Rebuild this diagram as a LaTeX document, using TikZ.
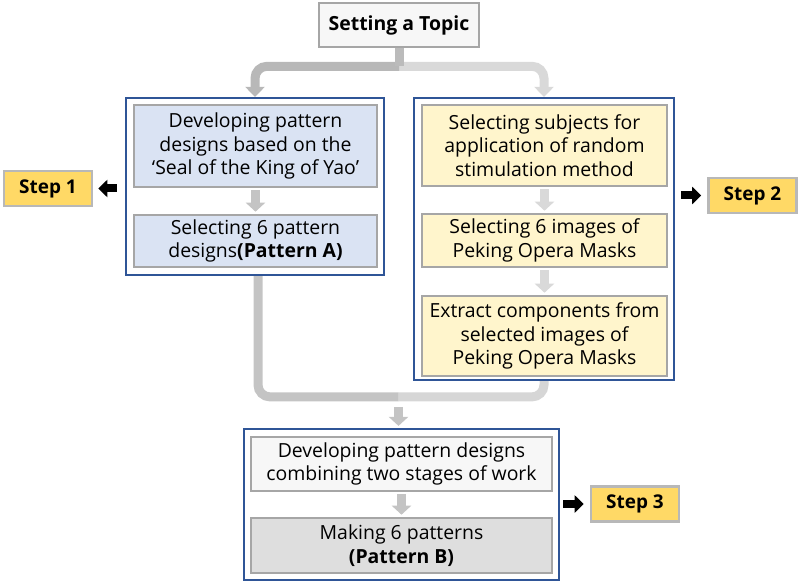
\documentclass[tikz,border=0pt]{standalone}
\usepackage{fontspec}
\setmainfont{Open Sans}
\usetikzlibrary{arrows.meta,calc}
\definecolor{grpblue}{HTML}{2F5597}
\definecolor{boxgray}{HTML}{A6A6A6}
\definecolor{lblue}{HTML}{DAE3F3}
\definecolor{lyellow}{HTML}{FFF5CC}
\definecolor{lwhite}{HTML}{F7F7F7}
\definecolor{lgray}{HTML}{DEDEDE}
\definecolor{stepyellow}{HTML}{FFD966}
\definecolor{conndark}{HTML}{B8B8B8}
\definecolor{connlight}{HTML}{D9D9D9}
\definecolor{connmid}{HTML}{C4C4C4}
\tikzset{
  grp/.style={draw=grpblue, line width=2.2bp, fill=white, inner sep=0pt},
  inbox/.style={draw=boxgray, line width=2.6bp, align=center, inner sep=0pt,
    font=\fontsize{19.5}{23.4}\selectfont},
  stepbox/.style={draw=boxgray!80, line width=2.6bp, fill=stepyellow, inner sep=0pt,
    minimum width=88bp, minimum height=35bp, font=\fontsize{19}{22}\selectfont\bfseries},
  conn/.style={line width=9bp},
  bigtip/.style={-{Triangle[width=19bp,length=10bp]}},
  smallarrow/.style={line width=9bp, -{Triangle[width=19bp,length=9bp]}, shorten <=2bp, shorten >=2bp},
  blackarrow/.style={line width=8bp, black, -{Triangle[width=17bp,length=9bp]}},
}
\begin{document}
\begin{tikzpicture}[x=1bp,y=-1bp]
\useasboundingbox (0,0) rectangle (800,585);
% groups
\node[grp, minimum width=258bp, minimum height=177bp] (lg) at (255,186.5) {};
\node[grp, minimum width=260bp, minimum height=282bp] (rg) at (544,239) {};
\node[grp, minimum width=315bp, minimum height=151bp] (bg) at (401.5,504.5) {};
% topic
\node[inbox, fill=lwhite, minimum width=160bp, minimum height=44bp,
  font=\fontsize{19.5}{23}\selectfont\bfseries] (topic) at (399,25) {Setting a Topic};
% left inner
\node[inbox, fill=lblue, minimum width=243bp, minimum height=82bp] (l1) at (255.5,146)
  {Developing pattern\\designs based on the\\‘Seal of the King of Yao’};
\node[inbox, fill=lblue, minimum width=243bp, minimum height=52bp] (l2) at (255.5,241)
  {Selecting 6 pattern\\designs\textbf{(Pattern A)}};
% right inner
\node[inbox, fill=lyellow, minimum width=245bp, minimum height=81bp] (r1) at (544.5,145.5)
  {Selecting subjects for\\application of random\\stimulation method};
\node[inbox, fill=lyellow, minimum width=245bp, minimum height=53bp] (r2) at (544.5,240.5)
  {Selecting 6 images of\\Peking Opera Masks};
\node[inbox, fill=lyellow, minimum width=245bp, minimum height=80bp] (r3) at (544.5,336)
  {Extract components from\\selected images of\\Peking Opera Masks};
% bottom inner
\node[inbox, fill=lwhite, minimum width=301bp, minimum height=54bp] (b1) at (401.5,464)
  {Developing pattern designs\\combining two stages of work};
\node[inbox, fill=lgray, minimum width=301bp, minimum height=55bp] (b2) at (401.5,545.5)
  {Making 6 patterns\\\textbf{(Pattern B)}};
% steps
\node[stepbox] (s1) at (48,188.5) {Step 1};
\node[stepbox] (s2) at (752.5,195.5) {Step 2};
\node[stepbox] (s3) at (635,504) {Step 3};
% top connectors
\coordinate (tj) at ($(topic.south)+(0,18)$);
\draw[conn, connlight, bigtip, rounded corners=12bp] (tj) -| (rg.north);
\draw[conn, conndark, bigtip, rounded corners=12bp] (tj) -| (lg.north);
\draw[conn, conndark!95!white] (topic.south) -- (tj);
% bottom connectors
\coordinate (bj) at ($(bg.north)+(-3,-31)$);
\draw[conn, connlight!90!conndark, rounded corners=12bp] (rg.south) |- (bj);
\draw[conn, connmid, rounded corners=12bp] ($(lg.south)+(3,0)$) |- (bj);
\draw[smallarrow, connmid] ($(bj)+(0,8)$) -- (bj |- bg.north);
% inner arrows
\draw[smallarrow, connmid] (l1) -- (l2);
\draw[smallarrow, connlight] (r1) -- (r2);
\draw[smallarrow, connlight] (r2) -- (r3);
\draw[smallarrow, connmid] (b1) -- (b2);
% step arrows
\draw[blackarrow, shorten <=8bp, shorten >=5bp] (lg.west |- s1.east) -- (s1.east);
\draw[blackarrow, shorten <=6bp, shorten >=6bp] (rg.east |- s2.west) -- (s2.west);
\draw[blackarrow, shorten <=3bp, shorten >=6bp] (bg.east |- s3.west) -- (s3.west);
\end{tikzpicture}
\end{document}
